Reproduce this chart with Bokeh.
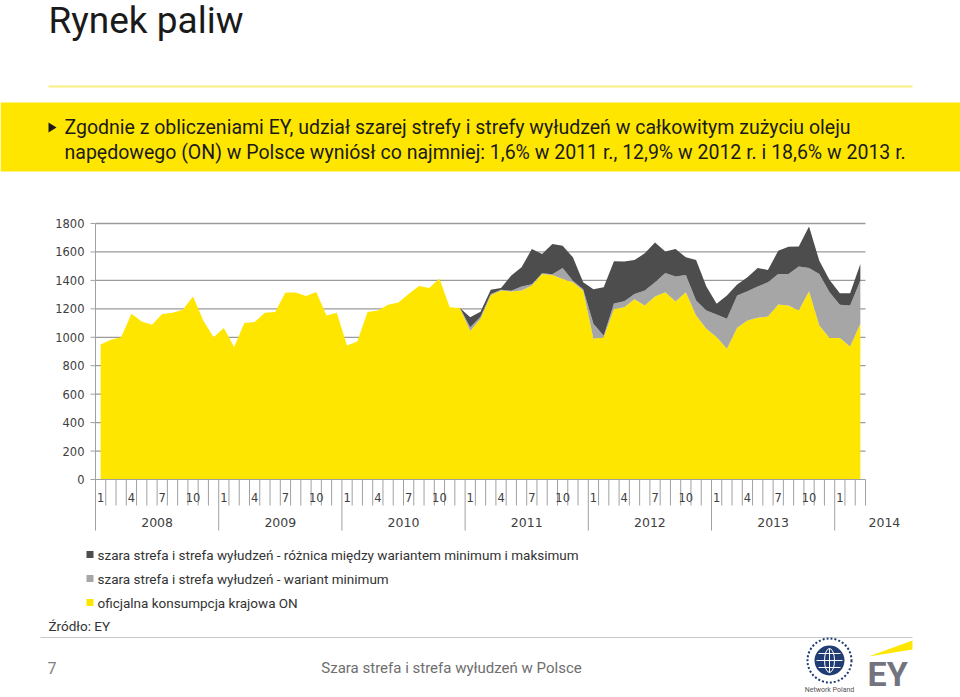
import numpy as np
from bokeh.plotting import figure
from bokeh.models import ColumnDataSource, Range1d
from bokeh.layouts import column
from bokeh.embed import file_html
from bokeh.resources import INLINE
from bokeh.core.properties import value

# ---------------- data ----------------
years = [2008, 2009, 2010, 2011, 2012, 2013, 2014]
months_per_year = [12, 12, 12, 12, 12, 12, 3]
month_tick_labels = ["1", "4", "7", "10"]
y_ticks = [0, 200, 400, 600, 800, 1000, 1200, 1400, 1600, 1800]

# oficjalna konsumpcja krajowa ON
official = [950, 983, 1000, 1165, 1111, 1088, 1163, 1172, 1193, 1286, 1118, 1000,
            1065, 932, 1100, 1107, 1172, 1177, 1315, 1315, 1291, 1319, 1153, 1172,
            943, 971, 1177, 1188, 1228, 1245, 1305, 1361, 1347, 1413, 1212, 1205,
            1045, 1130, 1295, 1329, 1322, 1329, 1364, 1445, 1438, 1410, 1387, 1329,
            990, 1000, 1198, 1212, 1268, 1224, 1287, 1317, 1252, 1317, 1153, 1060,
            1002, 920, 1067, 1118, 1137, 1146, 1231, 1224, 1188, 1324, 1083, 995,
            995, 936, 1095]
# szara strefa i strefa wyłudzeń - wariant minimum
min_zone = [0] * 36 + [
            25, 15, 10, 5, 5, 28, 8, 5, 5, 77, 11, 8,
            105, 11, 40, 42, 37, 105, 100, 135, 175, 121, 106, 128,
            158, 210, 227, 206, 220, 241, 214, 221, 309, 163, 362, 322,
            233, 288, 304]
# różnica między wariantem minimum i maksimum
diff_zone = [0] * 36 + [
            70, 35, 30, 13, 107, 135, 248, 135, 212, 156, 164, 50,
            243, 341, 297, 278, 238, 261, 280, 151, 193, 124, 284, 169,
            75, 164, 77, 98, 130, 86, 163, 191, 142, 292, 93, 86,
            82, 86, 116]

legend_labels = [
    "szara strefa i strefa wyłudzeń - różnica między wariantem minimum i maksimum",
    "szara strefa i strefa wyłudzeń - wariant minimum",
    "oficjalna konsumpcja krajowa ON",
]

title_text = "Rynek paliw"
band_lines = [
    "Zgodnie z obliczeniami EY, udział szarej strefy i strefy wyłudzeń w całkowitym zużyciu oleju",
    "napędowego (ON) w Polsce wyniósł co najmniej: 1,6% w 2011 r., 12,9% w 2012 r. i 18,6% w 2013 r.",
]
source_text = "Źródło: EY"
footer_page = "7"
footer_text = "Szara strefa i strefa wyłudzeń w Polsce"

# ---------------- styles / layout ----------------
YELLOW = "#FFE600"
GRAY = "#A6A6A6"
DARK = "#4D4D4D"
AXIS = "#A0A0A0"
GRID = "#9A9A9A"
TXT = "#404040"
W = 960
H = 697

cat_year, cat_month = [], []
for yr, nm in zip(years, months_per_year):
    for m in range(1, nm + 1):
        cat_year.append(yr)
        cat_month.append(m)
n = len(cat_month)
xs = np.arange(n)


def bare(p):
    p.grid.visible = False
    p.outline_line_color = None
    p.background_fill_color = None
    p.border_fill_color = None


def px_fig(h):
    p = figure(width=W, height=h, x_range=Range1d(0, W), y_range=Range1d(h, 0),
               toolbar_location=None, output_backend="svg", min_border=0,
               x_axis_location=None, y_axis_location=None)
    bare(p)
    return p


# ---------------- header ----------------
A_H = 213
pa = px_fig(A_H)
pa.text(x=[48], y=[20], text=[title_text], text_font=value("Roboto"),
        text_font_size="37px", text_baseline="middle", text_color="#1a1a1a")
pa.segment(x0=[48], y0=[86], x1=[912], y1=[86], line_color="#FBEF80", line_width=2)
pa.quad(left=[0], right=[W], top=[102], bottom=[171], fill_color=YELLOW, line_color=None)
pa.patch(x=[48, 48, 56], y=[122, 132, 127], fill_color="#1a1a1a", line_color=None)
pa.text(x=[64, 64], y=[127, 152], text=band_lines, text_font=value("Roboto"),
        text_font_size="19.5px", text_baseline="middle", text_color="#1a1a1a")

# ---------------- chart ----------------
B_TOP = A_H
B_H = 540 - B_TOP
FRAME_L, FRAME_R = 95, 865     # category axis extent (px)
Y0_PX, Y1800_PX = 479, 223     # value axis extent (px)
px_per_cat = (FRAME_R - FRAME_L) / n
px_per_val = (Y0_PX - Y1800_PX) / 1800.0
x_start = -0.5 - FRAME_L / px_per_cat
x_end = x_start + W / px_per_cat
y_end = 1800 + (Y1800_PX - B_TOP) / px_per_val
y_start = -(B_TOP + B_H - Y0_PX) / px_per_val

pb = figure(width=W, height=B_H, x_range=Range1d(x_start, x_end), y_range=Range1d(y_start, y_end),
            toolbar_location=None, output_backend="svg", min_border=0,
            x_axis_location=None, y_axis_location=None)
bare(pb)


def dx(px):
    return px / px_per_cat


def dy(px):
    return px / px_per_val


x_left = -0.5
x_right = n - 0.5

# gridlines
gy = y_ticks[1:]
pb.segment(x0=[x_left] * len(gy), x1=[x_right] * len(gy), y0=gy, y1=gy,
           line_color=GRID, line_width=1.3)

src = ColumnDataSource(dict(x=xs, official=official, min_zone=min_zone, diff_zone=diff_zone))
pb.varea_stack(["official", "min_zone", "diff_zone"], x="x", source=src,
               color=[YELLOW, GRAY, DARK])

# value axis
pb.segment(x0=[x_left], x1=[x_left], y0=[0], y1=[1800], line_color=AXIS, line_width=1)
pb.segment(x0=[x_left - dx(5)] * len(y_ticks), x1=[x_left] * len(y_ticks), y0=y_ticks, y1=y_ticks,
           line_color=AXIS, line_width=1)
pb.text(x=[x_left - dx(11)] * len(y_ticks), y=y_ticks, text=[str(t) for t in y_ticks],
        text_font=value("DejaVu Sans"), text_font_size="11.5px", text_align="right",
        text_baseline="middle", text_color=TXT)

# category axis (two levels)
pb.segment(x0=[x_left], x1=[x_right], y0=[0], y1=[0], line_color=AXIS, line_width=1)
bx = np.arange(n + 1) - 0.5
by = [-dy(51) if (k < n and cat_month[k] == 1) else -dy(26) for k in range(n + 1)]
pb.segment(x0=bx, x1=bx, y0=[0] * (n + 1), y1=by, line_color=AXIS, line_width=1)

lab_idx = [k for k in range(n) if str(cat_month[k]) in month_tick_labels]
pb.text(x=[xs[k] for k in lab_idx], y=[-dy(18)] * len(lab_idx),
        text=[str(cat_month[k]) for k in lab_idx], text_font=value("DejaVu Sans"),
        text_font_size="11.5px", text_align="center", text_baseline="middle", text_color=TXT)

gx, gl, ga = [], [], []
start = 0
for yr, nm in zip(years, months_per_year):
    if nm == 12:
        gx.append(start + (nm - 1) / 2.0)
        ga.append("center")
    else:
        gx.append(start + nm - 0.5 + dx(3))
        ga.append("left")
    gl.append(str(yr))
    start += nm
for al in ("center", "left"):
    sel = [i for i in range(len(gx)) if ga[i] == al]
    pb.text(x=[gx[i] for i in sel], y=[-dy(43)] * len(sel), text=[gl[i] for i in sel],
            text_font=value("DejaVu Sans"), text_font_size="12.5px", text_align=al,
            text_baseline="middle", text_color=TXT)

# ---------------- footer ----------------
C_TOP = B_TOP + B_H
C_H = H - C_TOP
pc = px_fig(C_H)
ly = [554 - C_TOP, 578 - C_TOP, 602 - C_TOP]
pc.rect(x=[89.5] * 3, y=ly, width=7, height=7, fill_color=[DARK, GRAY, YELLOW], line_color=None)
pc.text(x=[97] * 3, y=ly, text=legend_labels, text_font=value("Roboto"), text_font_size="13.5px",
        text_baseline="middle", text_color="#333333")
pc.text(x=[48], y=[625 - C_TOP], text=[source_text], text_font=value("Roboto"), text_font_size="13.5px",
        text_baseline="middle", text_color="#333333")
pc.segment(x0=[40], x1=[912], y0=[637 - C_TOP], y1=[637 - C_TOP], line_color="#C8C8C8", line_width=1)
pc.text(x=[47], y=[667 - C_TOP], text=[footer_page], text_font=value("Roboto"), text_font_size="16px",
        text_baseline="middle", text_color="#808080")
pc.text(x=[451], y=[667 - C_TOP], text=[footer_text], text_font=value("Roboto"), text_font_size="15px",
        text_align="center", text_baseline="middle", text_color="#6E6E6E")

# UN Global Compact emblem (simplified)
ux, uy = 829, 660 - C_TOP
pc.scatter(x=[ux], y=[uy], marker="circle", size=44, fill_color=None,
           line_color="#1F3C73", line_width=2, line_dash="2 2")
pc.scatter(x=[ux], y=[uy], marker="circle", size=30, fill_color="#1F3C73", line_color=None)
pc.ellipse(x=[ux], y=[uy], width=10, height=24, fill_color=None, line_color="white", line_width=1)
pc.segment(x0=[ux - 11, ux - 13, ux - 11], x1=[ux + 11, ux + 13, ux + 11],
           y0=[uy - 7, uy, uy + 7], y1=[uy - 7, uy, uy + 7], line_color="white", line_width=1)
pc.segment(x0=[ux], x1=[ux], y0=[uy - 12], y1=[uy + 12], line_color="white", line_width=1)
pc.text(x=[ux], y=[689 - C_TOP], text=["Network Poland"], text_font=value("Roboto"), text_font_size="7px",
        text_align="center", text_baseline="middle", text_color="#555555")

# EY logo
pc.patch(x=[868, 912, 912], y=[656 - C_TOP, 640 - C_TOP, 649 - C_TOP], fill_color=YELLOW, line_color=None)
pc.text(x=[867], y=[673 - C_TOP], text=["EY"], text_font=value("Roboto"), text_font_size="34px",
        text_font_style="bold", text_baseline="middle", text_color="#747480")

layout = column(pa, pb, pc)
open("out.html", "w").write(file_html(layout, INLINE))
